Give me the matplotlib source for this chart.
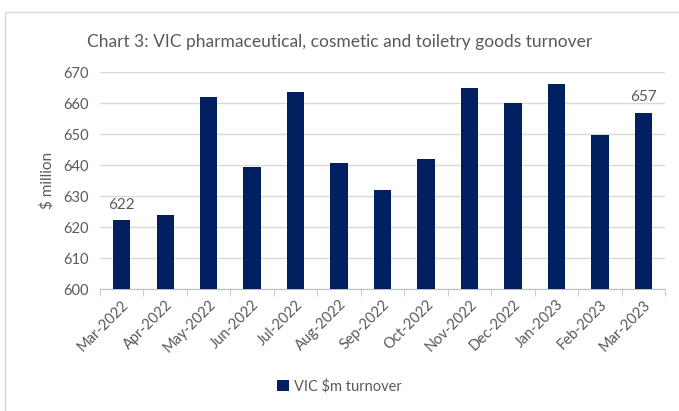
import matplotlib
matplotlib.use("Agg")
from matplotlib import pyplot as plt
from matplotlib.patches import Rectangle

months = ["Mar-2022", "Apr-2022", "May-2022", "Jun-2022", "Jul-2022", "Aug-2022", "Sep-2022",
          "Oct-2022", "Nov-2022", "Dec-2022", "Jan-2023", "Feb-2023", "Mar-2023"]
turnover = [622.2, 624.0, 662.0, 639.4, 663.5, 640.6, 632.0,
            641.9, 664.8, 659.9, 666.0, 649.7, 656.9]
yticks = [600, 610, 620, 630, 640, 650, 660, 670]

plt.rcParams['font.family'] = ['Lato', 'DejaVu Sans']
grey = "#595959"
navy = "#002060"

fig = plt.figure(figsize=(6.79, 4.11), dpi=100)
# outer chart border
fig.patches.append(Rectangle((5 / 679, -0.01), 1.0, 1 - 12 / 411 + 0.01, transform=fig.transFigure,
                             fill=False, edgecolor="#d9d9d9", linewidth=1))

ax = fig.add_axes([100 / 679, 1 - 289 / 411, 565 / 679, 217 / 411])
x = range(len(months))
ax.bar(x, turnover, width=0.4, color=navy, label="VIC $m turnover", zorder=3)
ax.set_ylim(600, 670)
ax.set_xlim(-0.5, len(months) - 0.5)
ax.set_yticks(yticks)
ax.grid(axis="y", color="#d9d9d9", linewidth=1, zorder=0)
ax.set_xticks([i - 0.5 for i in range(len(months) + 1)], minor=True)
ax.set_xticks(list(x))
ax.set_xticklabels(months, rotation=45, ha="right", rotation_mode="anchor")
ax.tick_params(axis="x", which="major", length=0, labelsize=10.5, colors=grey, pad=6)
ax.tick_params(axis="x", which="minor", length=5, color="#bfbfbf")
ax.tick_params(axis="y", length=0, labelsize=10.5, colors=grey, pad=8)
for s in ["top", "right", "left"]:
    ax.spines[s].set_visible(False)
ax.spines["bottom"].set_color("#bfbfbf")
ax.set_ylabel("$ million", fontsize=11, color=grey, labelpad=6)

for i in [0, len(months) - 1]:
    ax.annotate(f"{turnover[i]:.0f}", (i, turnover[i]), xytext=(0, 6), textcoords="offset points",
                ha="center", va="bottom", fontsize=11, color=grey)

fig.text(0.5, 1 - 42 / 411, "Chart 3: VIC pharmaceutical, cosmetic and toiletry goods turnover",
         ha="center", va="center", fontsize=12.5, color=grey)
leg = fig.legend(loc="center", bbox_to_anchor=(0.5, 1 - 386 / 411), frameon=False, fontsize=10.5,
                 handlelength=0.8, handleheight=0.8, handletextpad=0.4)
for t in leg.get_texts():
    t.set_color(grey)

fig.savefig("out.png", dpi=100)
